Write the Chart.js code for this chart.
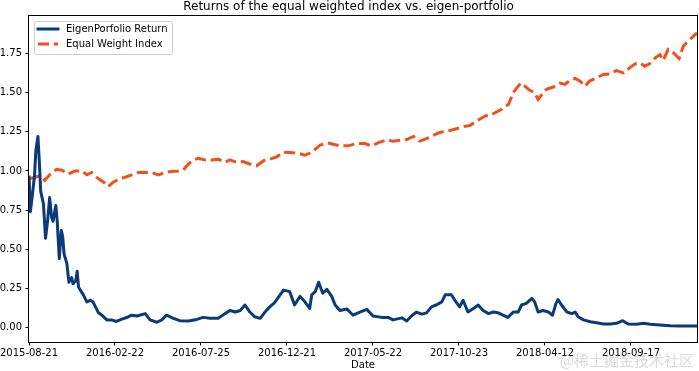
<!DOCTYPE html>
<html><head><meta charset="utf-8">
<script src="https://cdn.jsdelivr.net/npm/chart.js@4/dist/chart.umd.min.js"></script>
<style>html,body{margin:0;padding:0;background:#fff;}</style>
</head><body>
<canvas id="c" width="699" height="371"></canvas>
<script>
const chartTitle = 'Returns of the equal weighted index vs. eigen-portfolio';
const xAxisTitle = 'Date';
const xTickDays = [0, 125, 250, 375, 500, 625, 750, 875];
const xTickLabels = ['2015-08-21','2016-02-22','2016-07-25','2016-12-21','2017-05-22','2017-10-23','2018-04-12','2018-09-17'];
const yTicks = [0, 0.25, 0.5, 0.75, 1, 1.25, 1.5, 1.75];
const seriesNames = ['EigenPorfolio Return', 'Equal Weight Index'];

const eigenDays = [0,2,5,8,10,13,15,17,21,24,27,30,33,35,39,41,44,47,49,51,55,58,62,64,68,70,72,76,79,84,89,93,97,101,106,113,120,127,135,142,149,157,169,176,186,193,200,210,219,232,244,253,263,275,285,292,300,307,314,321,328,336,343,350,357,365,370,379,386,394,401,408,411,416,421,427,433,440,445,452,462,471,481,491,500,513,522,529,542,549,556,563,571,578,585,592,600,605,610,614,619,626,631,638,646,653,660,668,675,682,689,696,704,711,716,723,731,735,740,747,755,761,766,769,774,782,789,794,798,806,816,825,835,845,854,863,871,883,893,903,917,932,946,961,971];
const eigenReturn = [0.97,0.74,0.85,0.97,1.13,1.22,1.06,0.87,0.79,0.57,0.68,0.83,0.70,0.68,0.78,0.68,0.44,0.62,0.58,0.47,0.41,0.29,0.32,0.28,0.30,0.36,0.26,0.23,0.21,0.165,0.175,0.165,0.13,0.095,0.08,0.05,0.05,0.04,0.055,0.065,0.08,0.075,0.09,0.05,0.035,0.05,0.08,0.06,0.045,0.043,0.053,0.066,0.06,0.06,0.09,0.11,0.10,0.11,0.145,0.10,0.07,0.06,0.10,0.133,0.16,0.21,0.24,0.23,0.145,0.20,0.165,0.123,0.21,0.23,0.29,0.22,0.245,0.20,0.145,0.11,0.12,0.08,0.10,0.117,0.075,0.066,0.066,0.05,0.063,0.043,0.075,0.10,0.087,0.095,0.133,0.145,0.165,0.21,0.21,0.21,0.175,0.133,0.175,0.10,0.123,0.145,0.11,0.09,0.10,0.095,0.08,0.066,0.10,0.10,0.145,0.155,0.187,0.165,0.10,0.11,0.10,0.08,0.155,0.18,0.145,0.10,0.09,0.10,0.07,0.05,0.038,0.032,0.024,0.024,0.028,0.045,0.024,0.022,0.028,0.022,0.017,0.013,0.011,0.011,0.011];

const equalDays = [0,9,16,23,31,40,48,57,67,77,84,91,98,108,115,123,132,142,152,159,169,178,188,198,207,217,224,232,239,246,256,266,275,285,292,302,311,321,331,341,350,360,370,379,391,401,411,423,433,442,452,464,476,488,498,508,520,529,539,549,559,568,578,588,597,609,619,631,641,651,663,675,687,697,704,709,715,721,728,735,740,745,752,762,772,779,786,794,801,808,815,825,835,844,854,864,873,881,888,895,902,910,917,922,929,937,945,951,958,966,971];
const equalWeight = [0.95,0.96,0.97,0.94,0.98,1.01,1.005,0.98,1.00,1.00,0.975,0.99,0.96,0.93,0.90,0.93,0.95,0.963,0.98,0.99,0.99,0.99,0.975,0.99,0.997,1.00,1.005,1.045,1.07,1.08,1.07,1.07,1.075,1.055,1.07,1.055,1.06,1.044,1.033,1.065,1.075,1.09,1.12,1.117,1.113,1.10,1.12,1.164,1.18,1.17,1.16,1.16,1.175,1.175,1.16,1.18,1.198,1.19,1.196,1.20,1.22,1.19,1.206,1.228,1.245,1.255,1.266,1.283,1.29,1.32,1.35,1.365,1.393,1.425,1.50,1.53,1.56,1.54,1.514,1.50,1.456,1.484,1.52,1.535,1.56,1.552,1.577,1.59,1.573,1.54,1.573,1.594,1.615,1.619,1.64,1.625,1.657,1.683,1.689,1.668,1.683,1.72,1.742,1.704,1.774,1.752,1.717,1.795,1.827,1.86,1.88];

const watermark = '@稀土掘金技术社区';
const FONT = 'DejaVu Sans';

const framePlugin = {
  id: 'frame',
  afterDatasetsDraw(chart) {
    const {ctx, chartArea: a} = chart;
    ctx.save();
    ctx.strokeStyle = '#000';
    ctx.lineWidth = 1;
    ctx.strokeRect(Math.round(a.left) - 0.5, Math.round(a.top) - 0.5, Math.round(a.right - a.left) + 1, Math.round(a.bottom - a.top) + 1);
    const x0 = Math.round(a.left) + 5, y0 = Math.round(a.top) + 5, w = 138, h = 33;
    ctx.fillStyle = 'rgba(255,255,255,0.8)';
    ctx.strokeStyle = '#cccccc';
    ctx.beginPath();
    ctx.roundRect(x0 + 0.5, y0 + 0.5, w, h, 2);
    ctx.fill(); ctx.stroke();
    ctx.font = '10px "' + FONT + '"';
    ctx.textBaseline = 'middle';
    chart.data.datasets.forEach((ds, i) => {
      const yy = y0 + 8 + i * 15;
      ctx.strokeStyle = ds.borderColor;
      ctx.lineWidth = ds.borderWidth;
      ctx.setLineDash(ds.borderDash || []);
      ctx.lineCap = ds.borderDash ? 'butt' : 'square';
      ctx.beginPath(); ctx.moveTo(x0 + 4, yy); ctx.lineTo(x0 + 24, yy); ctx.stroke();
      ctx.setLineDash([]);
      ctx.fillStyle = '#000';
      ctx.fillText(ds.label, x0 + 32, yy);
    });
    ctx.restore();
  },
  afterDraw(chart) {
    const {ctx} = chart;
    ctx.save();
    ctx.font = '15px "Noto Sans CJK SC"';
    ctx.fillStyle = 'rgba(170,170,170,0.45)';
    ctx.textBaseline = 'middle';
    ctx.textAlign = 'right';
    ctx.fillText(watermark, 694, 360);
    ctx.restore();
  }
};

new Chart(document.getElementById('c'), {
  type: 'line',
  data: {
    datasets: [
      {
        label: seriesNames[0],
        data: eigenDays.map((d, i) => ({x: d, y: eigenReturn[i]})),
        borderColor: '#0b3a7a',
        borderWidth: 3,
        pointRadius: 0,
        tension: 0,
        borderJoinStyle: 'round'
      },
      {
        label: seriesNames[1],
        data: equalDays.map((d, i) => ({x: d, y: equalWeight[i]})),
        borderColor: '#f2501a',
        borderWidth: 3,
        borderDash: [11.1, 4.8],
        pointRadius: 0,
        tension: 0
      }
    ]
  },
  options: {
    responsive: false,
    animation: false,
    devicePixelRatio: 1,
    layout: {padding: {left: 0, right: 2, top: 0, bottom: 0}},
    plugins: {
      legend: {display: false},
      tooltip: {enabled: false},
      title: {
        display: true, text: chartTitle, color: '#000',
        font: {family: FONT, size: 12, weight: 'normal', lineHeight: 1},
        padding: {top: 0.5, bottom: 3.5}
      }
    },
    scales: {
      x: {
        type: 'linear', min: 0, max: 971,
        afterFit(s) { s.height = 29; s.paddingLeft = 0; s.paddingRight = 0; },
        afterBuildTicks(s) { s.ticks = xTickDays.map(v => ({value: v})); },
        ticks: {
          autoSkip: false, maxRotation: 0, color: '#000', padding: 2,
          font: {family: FONT, size: 10},
          callback: (v) => xTickLabels[xTickDays.indexOf(v)]
        },
        grid: {display: true, drawOnChartArea: false, drawTicks: true, tickLength: 3.5, color: '#000', lineWidth: 1},
        border: {display: false},
        title: {display: true, text: xAxisTitle, color: '#000', font: {family: FONT, size: 10}, padding: {top: 0, bottom: 0}}
      },
      y: {
        type: 'linear', min: -0.091, max: 1.988,
        afterFit(s) { s.width = 29; s.paddingTop = 0; s.paddingBottom = 0; },
        afterBuildTicks(s) { s.ticks = yTicks.map(v => ({value: v})); },
        ticks: {
          color: '#000', padding: 3.5,
          font: {family: FONT, size: 10},
          callback: (v) => Number(v).toFixed(2)
        },
        grid: {display: true, drawOnChartArea: false, drawTicks: true, tickLength: 3.5, color: '#000', lineWidth: 1},
        border: {display: false}
      }
    }
  },
  plugins: [framePlugin]
});
</script>
</body></html>
